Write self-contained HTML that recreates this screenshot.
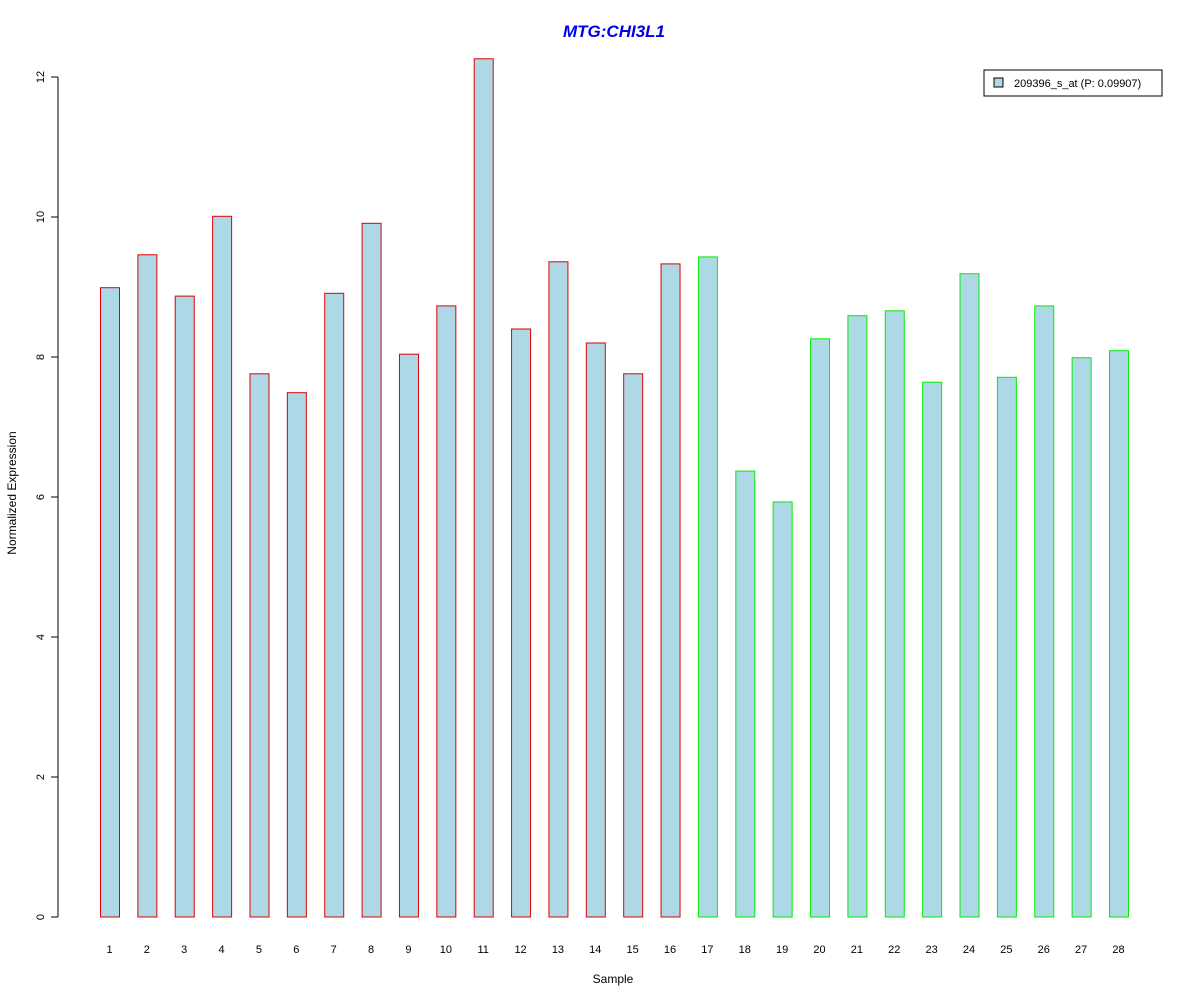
<!DOCTYPE html>
<html><head><meta charset="utf-8"><style>
body{margin:0;background:#fff}
svg text{font-family:"Liberation Sans",Arial,sans-serif}
</style></head><body>
<svg id="chart" width="1200" height="1000">
<text x="614" y="37" text-anchor="middle" font-size="17" font-weight="bold" font-style="italic" fill="#0000ee">MTG:CHI3L1</text>
<g id="yaxis"></g>
<g id="bars"></g>
<g id="xlabels"></g>
<text x="613" y="983" text-anchor="middle" font-size="12">Sample</text>
<text transform="translate(16,493) rotate(-90)" text-anchor="middle" font-size="12">Normalized Expression</text>
<g>
<rect x="984" y="70" width="178" height="26" fill="#fff" stroke="#000"/>
<rect x="994" y="78" width="9" height="9" fill="#add8e6" stroke="#000"/>
<text x="1014" y="87" font-size="11">209396_s_at (P: 0.09907)</text>
</g>
</svg>
<script>
const categories=["1","2","3","4","5","6","7","8","9","10","11","12","13","14","15","16","17","18","19","20","21","22","23","24","25","26","27","28"];
const values=[8.99,9.46,8.87,10.01,7.76,7.49,8.91,9.91,8.04,8.73,12.26,8.4,9.36,8.2,7.76,9.33,9.43,6.37,5.93,8.26,8.59,8.66,7.64,9.19,7.71,8.73,7.99,8.09];
const groups=["r","r","r","r","r","r","r","r","r","r","r","r","r","r","r","r","g","g","g","g","g","g","g","g","g","g","g","g"];
const yTicks=[0,2,4,6,8,10,12];
const NS="http://www.w3.org/2000/svg";
const y=v=>917-v*70;
const x=i=>100+i*37.37;
const bw=19;
function mk(t,a,p){const e=document.createElementNS(NS,t);for(const k in a)e.setAttribute(k,a[k]);p.appendChild(e);return e;}
const ya=document.getElementById('yaxis');
const axl=mk('line',{x1:58,x2:58,y1:y(0),y2:y(12),stroke:'#000'},ya);


yTicks.forEach(t=>{
 const l=mk('line',{x1:51,x2:58,y1:y(t),y2:y(t),stroke:'#000'},ya);
 
 
 const tx=mk('text',{transform:`translate(44,${y(t)}) rotate(-90)`,'text-anchor':'middle','font-size':11},ya);
 tx.textContent=t;
 
 
});
const bg=document.getElementById('bars'),xl=document.getElementById('xlabels');
values.forEach((v,i)=>{
 const r=mk('rect',{x:x(i)+0.5,y:y(v),width:bw,height:y(0)-y(v),fill:'#add8e6',stroke:groups[i]=='r'?'#e00000':'#00ee00'},bg);
 
 
 const t=mk('text',{x:x(i)+bw/2,y:953,'text-anchor':'middle','font-size':11},xl);
 t.textContent=categories[i];
 
 
});
</script>
</body></html>
